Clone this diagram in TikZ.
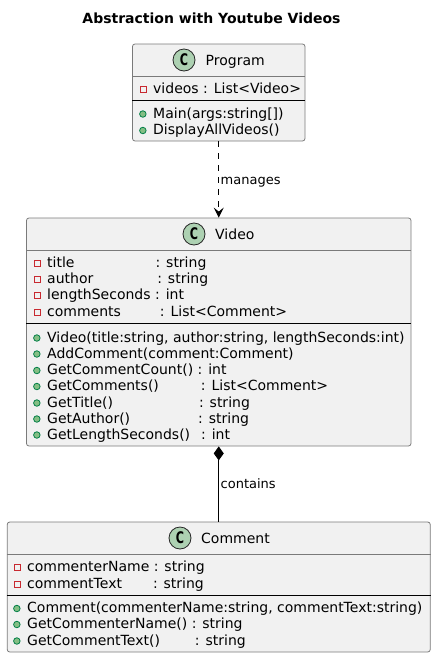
\documentclass[tikz,border=0pt]{standalone}
\usepackage{fontspec}
\setmainfont{DejaVu Sans}
\usetikzlibrary{arrows.meta}
\definecolor{boxfill}{HTML}{F1F1F1}
\definecolor{boxline}{HTML}{7A7A7A}
\definecolor{spotfill}{HTML}{ADD1B2}
\definecolor{privline}{HTML}{C82930}
\definecolor{publine}{HTML}{038048}
\definecolor{pubfill}{HTML}{84BE84}
\newcommand{\gap}[1]{\hspace*{#1pt}}
\newcommand{\spotletter}{\scalebox{0.7}[1]{C}}
\tikzset{
	classbox/.style={shape=rectangle,draw=boxline,fill=boxfill,rounded corners=2.5pt,line width=0.8pt},
	spot/.style={shape=circle,draw=black!85,fill=spotfill,minimum size=22pt,inner sep=0pt,line width=0.8pt,font=\bfseries\fontsize{16}{16}\selectfont},
	classname/.style={anchor=west,inner sep=0pt,text height=13pt,text depth=3pt,font=\fontsize{14}{14}\selectfont},
	member/.style={anchor=west,inner sep=0pt,text height=13pt,text depth=3pt,font=\fontsize{14}{14}\selectfont},
	private/.style={member,label={[shape=rectangle,draw=privline,line width=0.8pt,inner sep=0pt,minimum size=6pt,xshift=-6.5pt,yshift=-1pt]left:{}}},
	public/.style={member,label={[shape=circle,draw=publine,fill=pubfill,line width=0.8pt,inner sep=0pt,minimum size=6.5pt,xshift=-6.5pt,yshift=-1pt]left:{}}},
	linklabel/.style={inner sep=1.5pt,text height=12pt,text depth=3pt,font=\fontsize{13}{13}\selectfont},
	innerline/.style={line width=0.8pt},
}
\begin{document}
\begin{tikzpicture}[x=1pt,y=-1pt]
	\useasboundingbox (0,0) rectangle (436,657);

	\node[inner sep=0pt,font=\bfseries\fontsize{14}{14}\selectfont] (title) at (211.5, 18) {Abstraction with Youtube Videos};

	\node[classbox,minimum width=172.5pt,minimum height=97pt] (program) at (218.75, 92.5) {};
	\node[classbox,minimum width=384.5pt,minimum height=228pt] (video) at (218.75, 332) {};
	\node[classbox,minimum width=423pt,minimum height=130pt] (comment) at (218.75, 587) {};

	% dividers
	\draw[innerline,boxline] (program.west |- 0,76.5) -- (program.east |- 0,76.5);
	\draw[innerline,black] (program.west |- 0,100.5) -- (program.east |- 0,100.5);
	\draw[innerline,boxline] (video.west |- 0,250.5) -- (video.east |- 0,250.5);
	\draw[innerline,black] (video.west |- 0,323.5) -- (video.east |- 0,323.5);
	\draw[innerline,boxline] (comment.west |- 0,554.5) -- (comment.east |- 0,554.5);
	\draw[innerline,black] (comment.west |- 0,595.5) -- (comment.east |- 0,595.5);

	% Program
	\node[spot] (programspot) at (184, 60) {\spotletter};
	\node[classname] (programname) at (205.5, 60.5) {Program};
	\node[private] (videos) at (153, 88) {videos : List<Video>};
	\node[public] (main) at (153, 113) {Main(args:string[])};
	\node[public] (displayall) at (153, 129.5) {DisplayAllVideos()};

	% Video
	\node[spot] (videospot) at (194, 234) {\spotletter};
	\node[classname] (videoname) at (215, 234) {Video};
	\node[private] (vtitle) at (47, 262) {title\gap{81}: string};
	\node[private] (vauthor) at (47, 278.5) {author\gap{64}: string};
	\node[private] (vlength) at (47, 294.5) {lengthSeconds : int};
	\node[private] (vcomments) at (47, 311) {comments\gap{39}: List<Comment>};
	\node[public] (vctor) at (47, 337) {Video(title:string, author:string, lengthSeconds:int)};
	\node[public] (vadd) at (47, 353) {AddComment(comment:Comment)};
	\node[public] (vcount) at (47, 369.5) {GetCommentCount() : int};
	\node[public] (vget) at (47, 385.5) {GetComments()\gap{42}: List<Comment>};
	\node[public] (vgettitle) at (47, 402) {GetTitle()\gap{86}: string};
	\node[public] (vgetauthor) at (47, 418) {GetAuthor()\gap{68}: string};
	\node[public] (vgetlength) at (47, 434) {GetLengthSeconds()\gap{11}: int};

	% Comment
	\node[spot] (commentspot) at (180, 538) {\spotletter};
	\node[classname] (commentname) at (201, 538) {Comment};
	\node[private] (cname) at (27, 566.5) {commenterName : string};
	\node[private] (ctext) at (27, 583) {commentText\gap{31}: string};
	\node[public] (cctor) at (27, 607.5) {Comment(commenterName:string, commentText:string)};
	\node[public] (cgetname) at (27, 623.5) {GetCommenterName() : string};
	\node[public] (cgettext) at (27, 640) {GetCommentText()\gap{35}: string};

	% links
	\path[dash pattern=on 6pt off 6pt,-{Stealth[length=10pt,width=10pt,inset=4pt]},line width=0.9pt] (program) edge node[right,linklabel]{manages} (video);
	\path[{Diamond[length=14pt,width=10pt]}-,line width=0.9pt] (video) edge node[right,linklabel]{contains} (comment);
\end{tikzpicture}
\end{document}
